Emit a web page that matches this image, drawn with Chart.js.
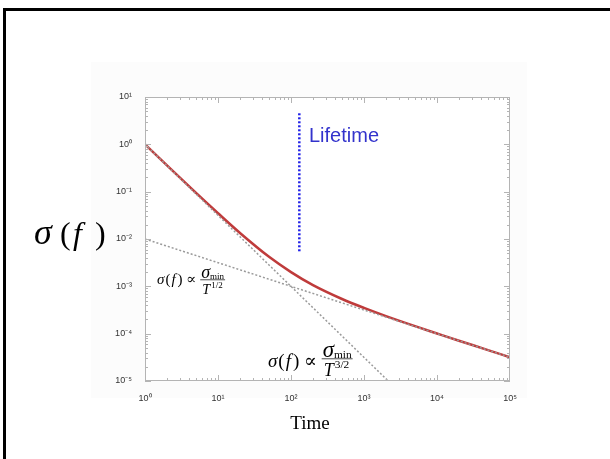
<!DOCTYPE html>
<html>
<head>
<meta charset="utf-8">
<script src="https://cdn.jsdelivr.net/npm/chart.js@4"></script>
<style>
  body { margin: 0; background: #fff; }
  #wrap { width: 610px; height: 459px; position: relative; }
</style>
</head>
<body>
<div id="wrap"><canvas id="sigmaChart"></canvas></div>
<script>
// values
var timeRed = [1, 2, 5, 10, 20, 50, 100, 200, 500, 1000, 2000, 5000, 10000, 20000, 50000, 100000];
var sigmaRed = [1.0, 0.36, 0.094, 0.035, 0.0134, 0.0042, 0.002, 0.00106, 0.00054, 0.00035, 0.000235, 0.000144, 0.000101, 0.000071, 0.000045, 0.0000316];

var timeSteep = [1, 2150];
var sigmaSteep = [1, 0.00001];

var timeShallow = [1, 100000];
var sigmaShallow = [0.01, 0.0000316];

var lifetimeTime = [130, 130];
var lifetimeSigma = [0.0055, 4.8];

var xTickLabels = ['10\u2070', '10\u00b9', '10\u00b2', '10\u00b3', '10\u2074', '10\u2075'];
var yTickLabels = ['10\u207b\u2075', '10\u207b\u2074', '10\u207b\u00b3', '10\u207b\u00b2', '10\u207b\u00b9', '10\u2070', '10\u00b9'];

function pts(xs, ys) {
  return xs.map(function(x, i) { return { x: x, y: ys[i] }; });
}

function isPow10(v) {
  var l = Math.log10(v);
  return Math.abs(l - Math.round(l)) < 1e-9;
}

// draw parts of text one after another, returns end x
function run(ctx, parts, x, y) {
  parts.forEach(function(p) {
    ctx.font = p.f;
    ctx.fillText(p.t, x, y + (p.dy || 0));
    x += ctx.measureText(p.t).width + (p.gap || 0);
  });
  return x;
}

function formula(ctx, x, y, s, sup, axis, denomY) {
  ctx.fillStyle = '#000';
  ctx.textAlign = 'left';
  ctx.textBaseline = 'alphabetic';
  var serif = '"Liberation Serif", "Times New Roman", serif';
  x = run(ctx, [
    { t: '\u03c3', f: 'italic ' + s + 'px ' + serif, gap: 1 },
    { t: '(', f: s + 'px ' + serif, gap: 1 },
    { t: 'f', f: 'italic ' + s + 'px ' + serif, gap: 2 },
    { t: ')', f: s + 'px ' + serif, gap: s * 0.25 },
    { t: '\u221d', f: s + 'px "DejaVu Serif", serif', gap: s * 0.25 }
  ], x, y);
  // numerator
  var nx = run(ctx, [
    { t: '\u03c3', f: 'italic ' + (s * 1.2) + 'px ' + serif },
    { t: 'min', f: (s * 0.6) + 'px ' + serif, dy: 1 }
  ], x + 1, axis - 2);
  // denominator
  var dx = run(ctx, [
    { t: 'T', f: 'italic ' + (s * 0.95) + 'px ' + serif, gap: 1 },
    { t: sup, f: (s * 0.6) + 'px ' + serif, dy: -s * 0.42 }
  ], x + 2, denomY);
  ctx.fillRect(x, axis - 0.5, Math.max(nx, dx) - x + 1, 0.7);
}

var decorPlugin = {
  id: 'decor',
  beforeDraw: function(chart) {
    var ctx = chart.ctx;
    var a = chart.chartArea;
    ctx.save();
    ctx.fillStyle = '#fcfcfc';
    ctx.fillRect(91, 62, 436, 336);
    ctx.fillStyle = '#fff';
    ctx.fillRect(a.left, a.top, a.right - a.left, a.bottom - a.top);
    ctx.fillStyle = '#000';
    ctx.fillRect(3, 8, 3, 451);
    ctx.fillRect(3, 8, 607, 3);
    ctx.restore();
  },
  afterDatasetsDraw: function(chart) {
    var ctx = chart.ctx;
    var a = chart.chartArea;
    var xs = chart.scales.x, ys = chart.scales.y;
    ctx.save();
    ctx.strokeStyle = '#b4b4b4';
    ctx.lineWidth = 1;
    ctx.strokeRect(a.left + 0.5, a.top + 0.5, a.right - a.left - 1, a.bottom - a.top - 1);
    ctx.beginPath();
    var d, m, v, p, len;
    for (d = 0; d < 5; d++) {
      for (m = 1; m <= 9; m++) {
        v = m * Math.pow(10, d);
        p = Math.round(xs.getPixelForValue(v)) + 0.5;
        len = m === 1 ? 6 : 3;
        ctx.moveTo(p, a.bottom); ctx.lineTo(p, a.bottom - len);
        ctx.moveTo(p, a.top); ctx.lineTo(p, a.top + len);
      }
    }
    for (d = -5; d < 1; d++) {
      for (m = 1; m <= 9; m++) {
        v = m * Math.pow(10, d);
        p = Math.round(ys.getPixelForValue(v)) + 0.5;
        len = m === 1 ? 6 : 3;
        ctx.moveTo(a.left, p); ctx.lineTo(a.left + len, p);
        ctx.moveTo(a.right, p); ctx.lineTo(a.right - len, p);
      }
    }
    ctx.stroke();
    ctx.restore();
  },
  afterDraw: function(chart) {
    var ctx = chart.ctx;
    var serif = '"Liberation Serif", "Times New Roman", serif';
    ctx.save();
    ctx.fillStyle = '#000';
    ctx.textBaseline = 'alphabetic';
    ctx.textAlign = 'left';
    // big axis title
    ctx.font = 'italic 36px ' + serif;
    ctx.fillText('\u03c3', 34, 244);
    ctx.font = '32px ' + serif;
    ctx.fillText('(', 60, 244);
    ctx.font = 'italic 32px ' + serif;
    ctx.fillText('f', 73, 244);
    ctx.font = '32px ' + serif;
    ctx.fillText(')', 95, 244);
    // x title
    ctx.textAlign = 'center';
    ctx.font = '19px ' + serif;
    ctx.fillText('Time', 310, 429);
    // lifetime label
    ctx.textAlign = 'left';
    ctx.fillStyle = '#3333cc';
    ctx.font = '20px "Liberation Sans", Arial, sans-serif';
    ctx.fillText('Lifetime', 309, 142);
    formula(ctx, 157, 284, 15, '1/2', 280, 294);
    formula(ctx, 268, 367, 19, '3/2', 359, 376);
    ctx.restore();
  }
};

var ctx = document.getElementById('sigmaChart').getContext('2d');
new Chart(ctx, {
  type: 'line',
  data: {
    datasets: [
      {
        label: 'steep',
        data: pts(timeSteep, sigmaSteep),
        borderColor: '#9a9a9a',
        borderWidth: 1.5,
        borderDash: [2, 2],
        pointRadius: 0,
        fill: false
      },
      {
        label: 'shallow',
        data: pts(timeShallow, sigmaShallow),
        borderColor: '#9a9a9a',
        borderWidth: 1.5,
        borderDash: [2, 2],
        pointRadius: 0,
        fill: false
      },
      {
        label: 'sigma',
        data: pts(timeRed, sigmaRed),
        borderColor: '#bf3b3b',
        borderWidth: 2.5,
        pointRadius: 0,
        cubicInterpolationMode: 'monotone',
        fill: false
      },
      {
        label: 'Lifetime',
        data: pts(lifetimeTime, lifetimeSigma),
        borderColor: '#2020e8',
        borderWidth: 2.5,
        borderDash: [2, 2],
        pointRadius: 0,
        fill: false
      }
    ]
  },
  options: {
    responsive: true,
    maintainAspectRatio: false,
    animation: false,
    layout: { padding: { left: 0, top: 97, right: 100, bottom: 0 } },
    plugins: {
      legend: { display: false },
      tooltip: { enabled: false }
    },
    scales: {
      x: {
        type: 'logarithmic',
        min: 1,
        max: 100000,
        grid: { display: false },
        border: { display: false },
        afterFit: function(scale) { scale.height = 78; },
        ticks: {
          autoSkip: false,
          maxRotation: 0,
          padding: 4,
          color: '#333',
          font: { family: '"Liberation Sans", Arial, sans-serif', size: 9 },
          callback: function(v) {
            return isPow10(v) ? xTickLabels[Math.round(Math.log10(v))] : '';
          }
        }
      },
      y: {
        type: 'logarithmic',
        min: 0.00001,
        max: 10,
        grid: { display: false },
        border: { display: false },
        afterFit: function(scale) { scale.width = 145; },
        ticks: {
          autoSkip: false,
          padding: 5,
          color: '#333',
          font: { family: '"Liberation Sans", Arial, sans-serif', size: 9 },
          callback: function(v) {
            return isPow10(v) ? yTickLabels[Math.round(Math.log10(v)) + 5] : '';
          }
        }
      }
    }
  },
  plugins: [decorPlugin]
});
</script>
</body>
</html>
